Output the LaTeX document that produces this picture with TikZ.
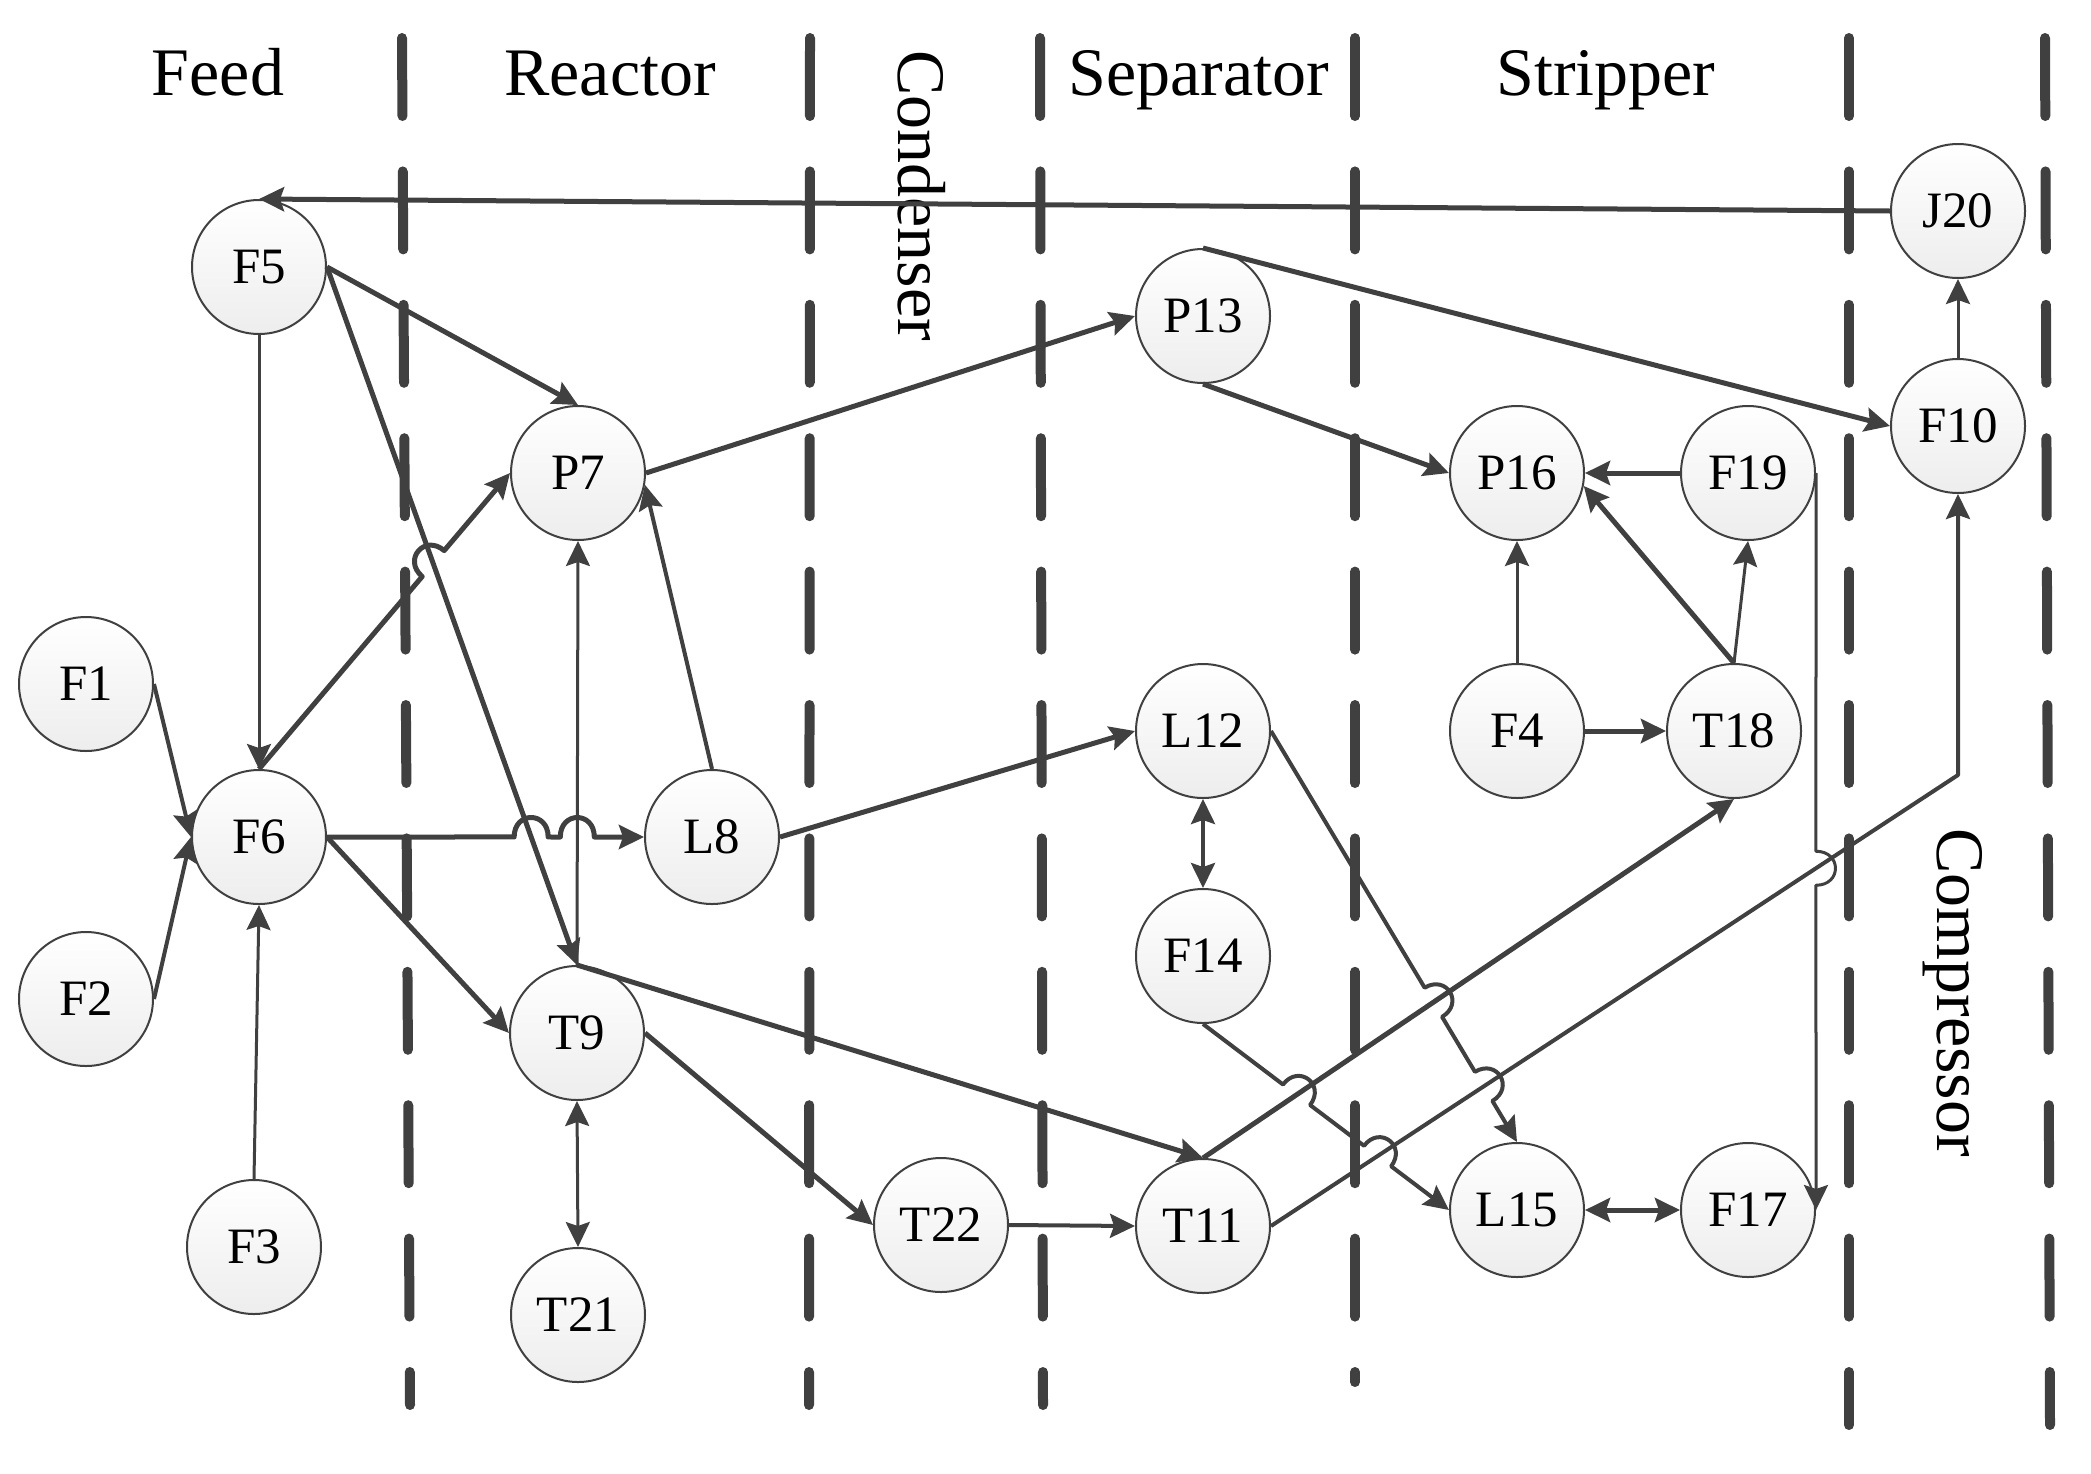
\documentclass[tikz,border=0pt]{standalone}
\usepackage{fontspec}
\setmainfont{Liberation Serif}
\usetikzlibrary{arrows.meta,calc,intersections}
\definecolor{lc}{RGB}{64,64,64}
\newcommand\mkhop[3]{%
  \coordinate (#1a) at ($(#1)!17pt!(#2)$);
  \coordinate (#1b) at ($(#1)!17pt!(#3)$);
  \coordinate (#1c) at ($(#1a)!26pt!-90:(#2)$);
  \coordinate (#1d) at ($(#1b)!26pt!90:(#3)$);
}
\begin{document}
\begin{tikzpicture}[x=1pt,y=-1pt,
  st/.style={circle, draw=lc, line width=2pt, minimum size=134pt, inner sep=0pt,
    top color=white, bottom color=black!7, font=\fontsize{51}{60}\selectfont},
  hd/.style={font=\fontsize{68}{80}\selectfont, inner sep=0pt},
  dl/.style={draw=lc, line width=10pt, line cap=round, dash pattern=on 78pt off 55.4pt},
  ed/.style={draw=lc, line join=round},
  lthick/.style={line width=5pt},
  lmed/.style={line width=4pt},
  lthin/.style={line width=3pt},
  arr/.style={-{Stealth[length=25pt,width=24pt,inset=4pt]}},
  darr/.style={{Stealth[length=25pt,width=24pt,inset=4pt]}-{Stealth[length=25pt,width=24pt,inset=4pt]}}
]
\useasboundingbox (0,0) rectangle (2091,1473);

% swimlane separators
\draw[dl] (402,38) -- (410,1405);
\draw[dl] (810,38) -- (809,1405);
\draw[dl] (1040,38) -- (1043,1405);
\draw[dl] (1355,38) -- (1355,1382);
\draw[dl] (1849,38) -- (1849,1425);
\draw[dl] (2045,38) -- (2050,1425);

% headings
\node[hd, anchor=base] (hFeed) at (218,95) {Feed};
\node[hd, anchor=base] (hReactor) at (610,95) {Reactor};
\node[hd, anchor=base] (hSep) at (1199,95) {Separator};
\node[hd, anchor=base] (hStrip) at (1606,95) {Stripper};
\node[hd, anchor=base west, rotate=-90] (hCond) at (898,50) {Condenser};
\node[hd, anchor=base west, rotate=-90] (hComp) at (1937,828) {Compressor};

% nodes
\node[st] (F5) at (259,267) {F5};
\node[st] (F1) at (86,684) {F1};
\node[st] (F6) at (259,837) {F6};
\node[st] (F2) at (86,999) {F2};
\node[st] (F3) at (254,1247) {F3};
\node[st] (P7) at (578,473) {P7};
\node[st] (L8) at (712,837) {L8};
\node[st] (T9) at (577,1033) {T9};
\node[st] (T21) at (578,1315) {T21};
\node[st] (T22) at (941,1225) {T22};
\node[st] (P13) at (1203,316) {P13};
\node[st] (L12) at (1203,731) {L12};
\node[st] (F14) at (1203,956) {F14};
\node[st] (T11) at (1203,1226) {T11};
\node[st] (P16) at (1517,473) {P16};
\node[st] (F19) at (1748,473) {F19};
\node[st] (F4) at (1517,731) {F4};
\node[st] (T18) at (1734,731) {T18};
\node[st] (L15) at (1517,1210) {L15};
\node[st] (F17) at (1748,1210) {F17};
\node[st] (J20) at (1958,211) {J20};
\node[st] (F10) at (1958,426) {F10};
\coordinate (k1) at (1958,775);

% crossing points for line hops
\path[name path=p59] (F5.east) -- (T9.north);
\path[name path=p97] (T9.north) -- (P7.south);
\path[name path=p67] (F6.north) -- (P7.west);
\path[name path=p68] (F6.east) -- (L8.west);
\path[name path=p1118] (T11.north) -- (T18.south);
\path[name path=p1110] (T11.east) -- (k1);
\path[name path=p1215] (L12.east) -- (L15.north);
\path[name path=p1415] (F14.south) -- (L15.west);
\path[name path=p1917] (F19.east) -- (F17.east);
\path[name intersections={of=p59 and p67, by=h1}];
\path[name intersections={of=p59 and p68, by=h2}];
\path[name intersections={of=p97 and p68, by=h3}];
\path[name intersections={of=p1118 and p1215, by=h4}];
\path[name intersections={of=p1110 and p1215, by=h5}];
\path[name intersections={of=p1118 and p1415, by=h6}];
\path[name intersections={of=p1110 and p1415, by=h7}];
\path[name intersections={of=p1110 and p1917, by=h8}];
\mkhop{h1}{F6.north}{P7.west}
\mkhop{h2}{F6.east}{L8.west}
\mkhop{h3}{F6.east}{L8.west}
\mkhop{h4}{L12.east}{L15.north}
\mkhop{h5}{L12.east}{L15.north}
\mkhop{h6}{F14.south}{L15.west}
\mkhop{h7}{F14.south}{L15.west}
\mkhop{h8}{F19.east}{F17.east}

% connectors
\draw[ed,lthick,arr] (J20.west) -- (F5.north);
\draw[ed,lthin,arr] (F5.south) -- (F6.north);
\draw[ed,lthick,arr] (F5.east) -- (P7.north);
\draw[ed,lthick,arr] (F5.east) -- (T9.north);
\draw[ed,lmed,arr] (F1.east) -- (F6.west);
\draw[ed,lmed,arr] (F2.east) -- (F6.west);
\draw[ed,lthin,arr] (F3.north) -- (F6.south);
\draw[ed,lthick,arr] (F6.north) -- (h1a) .. controls (h1c) and (h1d) .. (h1b) -- (P7.west);
\draw[ed,lthick,arr] (F6.east) -- (h2a) .. controls (h2c) and (h2d) .. (h2b) -- (h3a) .. controls (h3c) and (h3d) .. (h3b) -- (L8.west);
\draw[ed,lthick,arr] (F6.east) -- (T9.west);
\draw[ed,lthin,arr] (T9.north) -- (P7.south);
\draw[ed,lmed,arr] (L8.north) -- (P7.-10);
\draw[ed,lthick,arr] (T9.north) -- (T11.north);
\draw[ed,lthick,arr] (T9.east) -- (T22.west);
\draw[ed,lthin,darr] (T9.south) -- (T21.north);
\draw[ed,lmed,arr] (T22.east) -- (T11.west);
\draw[ed,lthick,arr] (L8.east) -- (L12.west);
\draw[ed,lthick,arr] (P7.east) -- (P13.west);
\draw[ed,lthick,arr] (P13.north) -- (F10.west);
\draw[ed,lthick,arr] (P13.south) -- (P16.west);
\draw[ed,lthick,arr] (F19.west) -- (P16.east);
\draw[ed,lthick,arr] (T18.north) -- (P16.-11);
\draw[ed,lthin,arr] (T18.north) -- (F19.south);
\draw[ed,lthin,arr] (F4.north) -- (P16.south);
\draw[ed,lthick,arr] (F4.east) -- (T18.west);
\draw[ed,lthin,arr] (F10.north) -- (J20.south);
\draw[ed,lmed,darr] (L12.south) -- (F14.north);
\draw[ed,lmed,arr] (L12.east) -- (h4a) .. controls (h4c) and (h4d) .. (h4b) -- (h5a) .. controls (h5c) and (h5d) .. (h5b) -- (L15.north);
\draw[ed,lmed,arr] (F14.south) -- (h6a) .. controls (h6c) and (h6d) .. (h6b) -- (h7a) .. controls (h7c) and (h7d) .. (h7b) -- (L15.west);
\draw[ed,lthick,arr] (T11.north) -- (T18.south);
\draw[ed,lmed,arr] (T11.east) -- (k1) -- (F10.south);
\draw[ed,lthick,darr] (L15.east) -- (F17.west);
\draw[ed,lthin,arr] (F19.east) -- (h8a) .. controls (h8c) and (h8d) .. (h8b) -- (F17.east);
\end{tikzpicture}
\end{document}
